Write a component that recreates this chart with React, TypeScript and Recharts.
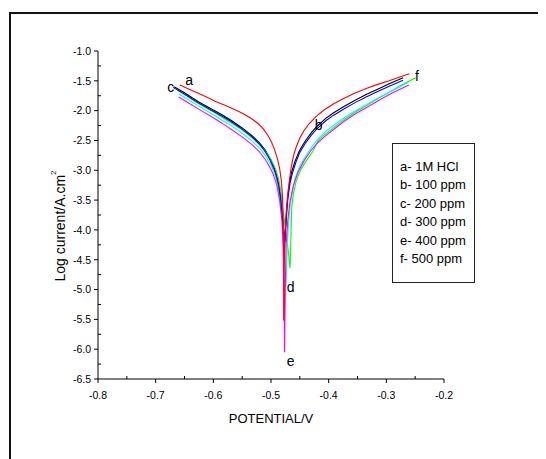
import React from "react";
import { LineChart, Line, XAxis, YAxis, ReferenceDot } from "recharts";

// potential (V) / log current pairs
const seriesA: [number, number][] = [
  [-0.658, -1.57], [-0.64, -1.65], [-0.626, -1.71], [-0.61, -1.78], [-0.595, -1.85], [-0.58, -1.91],
  [-0.568, -1.96], [-0.555, -2.02], [-0.545, -2.07], [-0.533, -2.14], [-0.522, -2.22], [-0.513, -2.31],
  [-0.505, -2.42], [-0.499, -2.53], [-0.494, -2.65], [-0.489, -2.8], [-0.485, -2.97], [-0.482, -3.18],
  [-0.48, -3.45], [-0.479, -3.8], [-0.478, -4.3], [-0.478, -4.9], [-0.478, -5.52],
  [-0.477, -5.2], [-0.477, -4.6], [-0.476, -4.1], [-0.474, -3.75], [-0.471, -3.4], [-0.468, -3.16],
  [-0.465, -2.95], [-0.461, -2.76], [-0.456, -2.6], [-0.45, -2.46], [-0.443, -2.34], [-0.434, -2.22],
  [-0.422, -2.1], [-0.408, -1.99], [-0.392, -1.89], [-0.375, -1.8], [-0.355, -1.71], [-0.335, -1.63],
  [-0.315, -1.56], [-0.295, -1.5], [-0.278, -1.44], [-0.26, -1.38],
];

const seriesB: [number, number][] = [
  [-0.668, -1.6], [-0.65, -1.7], [-0.626, -1.85], [-0.6, -1.99], [-0.585, -2.07], [-0.568, -2.17],
  [-0.55, -2.29], [-0.533, -2.42], [-0.52, -2.54], [-0.51, -2.66], [-0.501, -2.81], [-0.494, -2.97],
  [-0.488, -3.17], [-0.484, -3.4], [-0.481, -3.7], [-0.478, -4.0], [-0.476, -4.2],
  [-0.475, -4.0], [-0.473, -3.7], [-0.471, -3.45], [-0.468, -3.22], [-0.464, -3.02], [-0.458, -2.84],
  [-0.45, -2.66], [-0.44, -2.5], [-0.43, -2.37], [-0.421, -2.27], [-0.405, -2.13], [-0.392, -2.04],
  [-0.375, -1.94], [-0.355, -1.83], [-0.335, -1.73], [-0.315, -1.64], [-0.295, -1.55], [-0.271, -1.45],
];

const seriesC: [number, number][] = [
  [-0.67, -1.61], [-0.65, -1.72], [-0.626, -1.87], [-0.6, -2.01], [-0.585, -2.09], [-0.568, -2.19],
  [-0.55, -2.31], [-0.533, -2.44], [-0.52, -2.56], [-0.51, -2.69], [-0.501, -2.84], [-0.493, -3.02],
  [-0.487, -3.24], [-0.483, -3.5], [-0.48, -3.8], [-0.478, -4.1], [-0.477, -4.4],
  [-0.476, -4.2], [-0.474, -3.9], [-0.472, -3.6], [-0.47, -3.42], [-0.467, -3.22], [-0.463, -3.05],
  [-0.457, -2.87], [-0.45, -2.7], [-0.44, -2.54], [-0.43, -2.41], [-0.421, -2.31], [-0.405, -2.17],
  [-0.392, -2.08], [-0.375, -1.98], [-0.355, -1.87], [-0.335, -1.77], [-0.315, -1.68], [-0.295, -1.59],
  [-0.271, -1.49],
];

const seriesD: [number, number][] = [
  [-0.66, -1.72], [-0.645, -1.81], [-0.626, -1.92], [-0.6, -2.07], [-0.585, -2.16], [-0.568, -2.26],
  [-0.55, -2.38], [-0.533, -2.51], [-0.52, -2.63], [-0.51, -2.75], [-0.5, -2.91], [-0.492, -3.1],
  [-0.486, -3.35], [-0.482, -3.65], [-0.479, -4.0], [-0.477, -4.4], [-0.475, -4.7], [-0.474, -4.95],
  [-0.473, -4.7], [-0.472, -4.3], [-0.47, -3.95], [-0.467, -3.62], [-0.463, -3.36], [-0.458, -3.13],
  [-0.45, -2.93], [-0.44, -2.76], [-0.428, -2.59], [-0.416, -2.45], [-0.405, -2.35], [-0.392, -2.25],
  [-0.375, -2.13], [-0.355, -2.01], [-0.335, -1.9], [-0.315, -1.79], [-0.295, -1.69], [-0.28, -1.62],
  [-0.262, -1.53],
];

const seriesE: [number, number][] = [
  [-0.66, -1.77], [-0.645, -1.86], [-0.626, -1.97], [-0.6, -2.12], [-0.585, -2.21], [-0.568, -2.32],
  [-0.55, -2.44], [-0.533, -2.57], [-0.52, -2.69], [-0.51, -2.82], [-0.502, -2.95], [-0.496, -3.07],
  [-0.49, -3.25], [-0.485, -3.5], [-0.481, -3.85], [-0.479, -4.3], [-0.478, -4.9], [-0.477, -5.5],
  [-0.4765, -6.05],
  [-0.476, -5.6], [-0.475, -4.9], [-0.474, -4.3], [-0.471, -3.85], [-0.467, -3.52], [-0.461, -3.25],
  [-0.453, -3.03], [-0.442, -2.83], [-0.43, -2.66], [-0.418, -2.53], [-0.405, -2.42], [-0.392, -2.32],
  [-0.375, -2.19], [-0.355, -2.06], [-0.335, -1.95], [-0.315, -1.84], [-0.295, -1.73], [-0.28, -1.66],
  [-0.261, -1.57],
];

const seriesF: [number, number][] = [
  [-0.662, -1.66], [-0.645, -1.76], [-0.626, -1.88], [-0.6, -2.02], [-0.585, -2.11], [-0.568, -2.21],
  [-0.55, -2.32], [-0.533, -2.45], [-0.52, -2.57], [-0.51, -2.68], [-0.5, -2.82], [-0.492, -2.98],
  [-0.487, -3.14], [-0.483, -3.35], [-0.48, -3.6], [-0.476, -3.9], [-0.472, -4.2], [-0.469, -4.45],
  [-0.467, -4.64],
  [-0.466, -4.35], [-0.465, -3.95], [-0.464, -3.62], [-0.461, -3.38], [-0.456, -3.17], [-0.448, -2.98],
  [-0.438, -2.83], [-0.428, -2.69], [-0.418, -2.5], [-0.409, -2.42], [-0.401, -2.36], [-0.392, -2.29],
  [-0.375, -2.16], [-0.355, -2.03], [-0.335, -1.92], [-0.315, -1.8], [-0.295, -1.69], [-0.275, -1.58],
  [-0.262, -1.51], [-0.249, -1.45],
];

const legendLines = ["a- 1M HCl", "b- 100 ppm", "c- 200 ppm", "d- 300 ppm", "e- 400 ppm", "f- 500 ppm"];

const potentialTicks = [-0.8, -0.75, -0.7, -0.65, -0.6, -0.55, -0.5, -0.45, -0.4, -0.35, -0.3, -0.25, -0.2];
const logTicks = [
  -6.5, -6.25, -6.0, -5.75, -5.5, -5.25, -5.0, -4.75, -4.5, -4.25, -4.0, -3.75,
  -3.5, -3.25, -3.0, -2.75, -2.5, -2.25, -2.0, -1.75, -1.5, -1.25, -1.0,
];

// curve tags placed in data coordinates
const curveTags: { tag: string; p: number; i: number }[] = [
  { tag: "a", p: -0.642, i: -1.49 },
  { tag: "c", p: -0.674, i: -1.6 },
  { tag: "b", p: -0.4175, i: -2.24 },
  { tag: "f", p: -0.247, i: -1.42 },
  { tag: "d", p: -0.466, i: -4.96 },
  { tag: "e", p: -0.466, i: -6.2 },
];

const FONT = "Arial, 'Liberation Sans', sans-serif";

const toRows = (s: [number, number][]) => s.map(([p, i]) => ({ p, i }));

function XTick({ x, y, payload }: any) {
  const v = payload.value;
  const major = Math.round(v * 100) % 10 === 0;
  if (!major) return <line x1={x} x2={x} y1={y} y2={y - 3} stroke="#000" />;
  return (
    <g>
      <line x1={x} x2={x} y1={y} y2={y + 4} stroke="#000" />
      <text x={x} y={y + 20} textAnchor="middle" fontSize={10.5} fontFamily={FONT} fill="#000">
        {v.toFixed(1)}
      </text>
    </g>
  );
}

function YTick({ x, y, payload }: any) {
  const v = payload.value;
  const major = Math.round(v * 100) % 50 === 0;
  if (!major) return <line x1={x} x2={x + 3} y1={y} y2={y} stroke="#000" />;
  return (
    <g>
      <line x1={x - 4} x2={x} y1={y} y2={y} stroke="#000" />
      <text x={x - 7} y={y + 3.8} textAnchor="end" fontSize={10.5} fontFamily={FONT} fill="#000">
        {v.toFixed(1)}
      </text>
    </g>
  );
}

function YLabel({ viewBox }: any) {
  const cx = viewBox.x + 12;
  const cy = viewBox.y + viewBox.height / 2 + 11;
  return (
    <text
      x={cx}
      y={cy}
      transform={`rotate(-90, ${cx}, ${cy})`}
      textAnchor="middle"
      dominantBaseline="central"
      fontSize={14}
      fontFamily={FONT}
      fill="#000"
    >
      Log current/A.cm
      <tspan fontSize={8} dy={-7}>2</tspan>
    </text>
  );
}

function XLabel({ viewBox }: any) {
  return (
    <text
      x={viewBox.x + viewBox.width / 2}
      y={viewBox.y + 39}
      textAnchor="middle"
      dominantBaseline="central"
      fontSize={13}
      fontFamily={FONT}
      fill="#000"
    >
      POTENTIAL/V
    </text>
  );
}

export default function App() {
  const lines = [
    { data: seriesB, color: "#000000" },
    { data: seriesF, color: "#00ff00" },
    { data: seriesD, color: "#00ffff" },
    { data: seriesE, color: "#ff00ff" },
    { data: seriesC, color: "#0000ff" },
    { data: seriesA, color: "#ff0000" },
  ];

  return (
    <div style={{ position: "relative", width: 538, height: 451, overflow: "hidden", background: "#fff" }}>
      <div
        style={{
          position: "absolute",
          left: 1,
          top: 4,
          width: 620,
          height: 520,
          border: "2px solid #111",
          boxSizing: "border-box",
        }}
      />
      <div style={{ position: "absolute", left: 0, top: 0 }}>
        <LineChart width={538} height={451} margin={{ top: 43, right: 102, bottom: 50, left: 40 }}>
          <XAxis
            dataKey="p"
            type="number"
            domain={[-0.8, -0.2]}
            ticks={potentialTicks}
            interval={0}
            allowDataOverflow
            tickLine={false}
            tickSize={0}
            tickMargin={0}
            stroke="#000"
            height={30}
            tick={<XTick />}
            label={{ content: <XLabel /> }}
          />
          <YAxis
            dataKey="i"
            type="number"
            domain={[-6.5, -1.0]}
            ticks={logTicks}
            interval={0}
            allowDataOverflow
            tickLine={false}
            tickSize={0}
            tickMargin={0}
            stroke="#000"
            width={50}
            tick={<YTick />}
            label={{ content: <YLabel /> }}
          />
          {lines.map((l, idx) => (
            <Line
              key={idx}
              data={toRows(l.data)}
              dataKey="i"
              type="linear"
              stroke={l.color}
              strokeWidth={1.1}
              dot={false}
              activeDot={false}
              isAnimationActive={false}
            />
          ))}
          {curveTags.map((t) => (
            <ReferenceDot
              key={t.tag}
              x={t.p}
              y={t.i}
              r={0}
              shape={(props: any) => (
                <text
                  x={props.cx}
                  y={props.cy}
                  textAnchor="middle"
                  dominantBaseline="central"
                  fontSize={14}
                  fontFamily={FONT}
                  fill="#000"
                >
                  {t.tag}
                </text>
              )}
            />
          ))}
        </LineChart>
      </div>
      <div
        style={{
          position: "absolute",
          left: 384,
          top: 135,
          width: 83,
          height: 140,
          border: "1px solid #222",
          boxSizing: "border-box",
          paddingTop: 14,
          paddingLeft: 7,
          fontFamily: FONT,
          fontSize: 13,
          lineHeight: "18.4px",
          color: "#000",
          whiteSpace: "nowrap",
        }}
      >
        {legendLines.map((s) => (
          <div key={s}>{s}</div>
        ))}
      </div>
    </div>
  );
}
